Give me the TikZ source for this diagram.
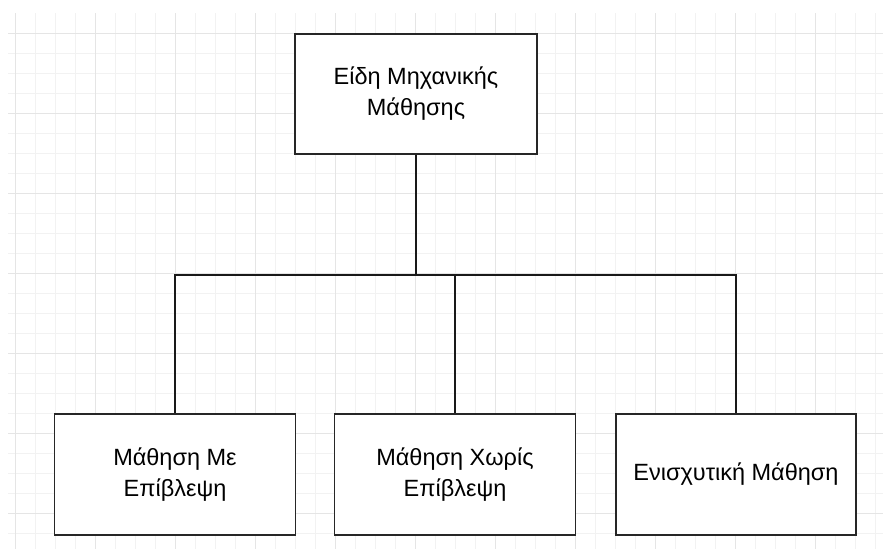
\documentclass[tikz,border=0pt]{standalone}
\usepackage{fontspec}
\setmainfont{Liberation Sans}
\begin{document}
\begin{tikzpicture}[x=1pt,y=-1pt,
  minorgrid/.style={draw=black!5, line width=1pt},
  majorgrid/.style={draw=black!10, line width=1pt},
  box/.style={draw=black!85, line width=1.5pt, fill=white,
    minimum width=241pt, minimum height=121pt, inner sep=0pt,
    align=center, font=\fontsize{23.5}{31}\selectfont},
  link/.style={draw=black!90, line width=1.5pt}]
\useasboundingbox (0,0) rectangle (883,549);
\fill[white] (0,0) rectangle (883,549);
% background grid
\begin{scope}
  \clip (8,13) rectangle (883,549);
  \foreach \x in {15,35,...,875} \draw[minorgrid] (\x,13) -- (\x,549);
  \foreach \y in {33,53,...,549} \draw[minorgrid] (8,\y) -- (883,\y);
  \foreach \x in {15,95,...,875} \draw[majorgrid] (\x,13) -- (\x,549);
  \foreach \y in {33,113,...,549} \draw[majorgrid] (8,\y) -- (883,\y);
\end{scope}
% boxes
\node[box, minimum width=242pt, minimum height=120pt] (root) at (416,94) {Είδη Μηχανικής\\Μάθησης};
\node[box] (sup) at (175,474.5) {Μάθηση Με\\Επίβλεψη};
\node[box] (unsup) at (455,474.5) {Μάθηση Χωρίς\\Επίβλεψη};
\node[box, minimum width=240pt] (rl) at (736,474.5) {Ενισχυτική Μάθηση};
% tree connectors
\coordinate (junction) at (416,275);
\draw[link] (root.south) -- (junction);
\draw[link] (sup.north) |- (junction) -| (rl.north);
\draw[link] (unsup.north) -- (unsup.north |- junction);
\end{tikzpicture}
\end{document}
